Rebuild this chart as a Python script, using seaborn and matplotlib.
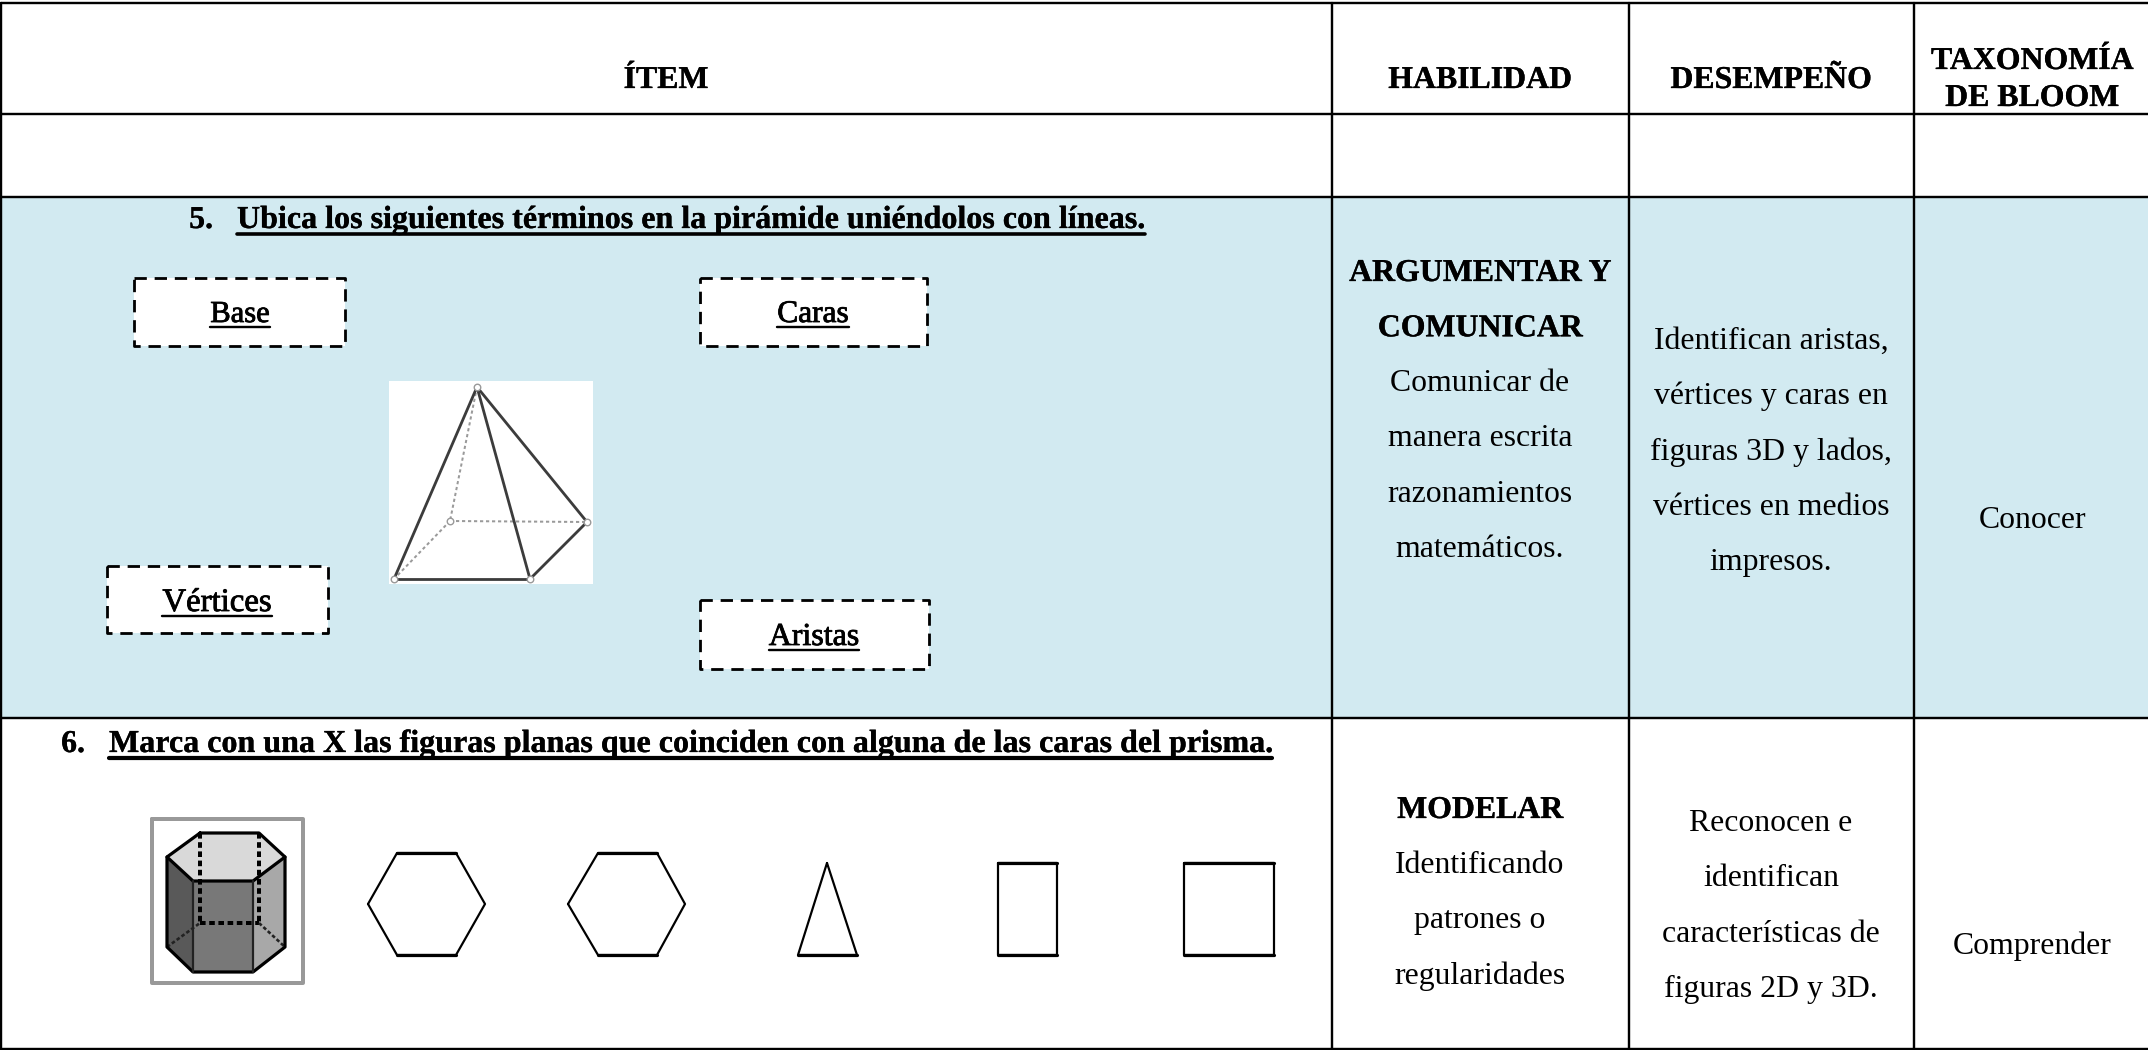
import matplotlib
matplotlib.use("Agg")
import matplotlib.pyplot as plt
import matplotlib.patheffects as pe
import seaborn as sns

# table layout, in reference pixels
col_edges = [1.3, 1332, 1629, 1914]
row_edges = [2.5, 114, 197, 718, 1049]
table_right = 2148
band_color = "#D2EAF1"

headers = ["ÍTEM", "HABILIDAD", "DESEMPEÑO"]
headers_x = [666, 1480, 1771]
bloom_header = ["TAXONOMÍA", "DE BLOOM"]

title_5 = "Ubica los siguientes términos en la pirámide uniéndolos con líneas."
title_6 = "Marca con una X las figuras planas que coinciden con alguna de las caras del prisma."

skill_5_bold = ["ARGUMENTAR Y", "COMUNICAR"]
skill_5 = ["Comunicar de", "manera escrita", "razonamientos", "matemáticos."]
perf_5 = ["Identifican aristas,", "vértices y caras en", "figuras 3D y lados,", "vértices en medios", "impresos."]
bloom_5 = "Conocer"
skill_6_bold = ["MODELAR"]
skill_6 = ["Identificando", "patrones o", "regularidades"]
perf_6 = ["Reconocen e", "identifican", "características de", "figuras 2D y 3D."]
bloom_6 = "Comprender"

box_labels = ["Base", "Caras", "Vértices", "Aristas"]
box_left = [134, 700, 107, 700]
box_right = [345, 927, 328, 929]
box_top = [278, 278, 566, 600]
box_bottom = [346, 346, 633, 669]
box_text_x = [240, 813, 217, 814]
box_text_y = [321, 321, 610, 644]
box_text_size = [22, 22.6, 23.6, 23]

pyr_apex = (477, 387)
pyr_back = (450, 521)
pyr_right = (587, 522)
pyr_fl = (394, 579)
pyr_fr = (530, 579)

top_face_x = [200, 259, 285, 253, 193, 167]
top_face_y = [833, 833, 857, 881, 881, 857]
left_face_x = [167, 193, 193, 167]
left_face_y = [857, 881, 972, 947]
front_face_x = [193, 253, 253, 193]
front_face_y = [881, 881, 972, 972]
right_face_x = [253, 285, 285, 253]
right_face_y = [881, 857, 947, 972]

hex_x = [[368, 397, 456, 485, 456, 397, 368], [568, 598, 657, 685, 657, 598, 568]]
hex_y = [904, 853, 853, 904, 955, 955, 904]
tri_x = [827, 798, 857, 827]
tri_y = [863, 955, 955, 863]
rect_x = [998, 1057, 1057, 998, 998]
square_x = [1184, 1274, 1274, 1184, 1184]
rect_y = [863, 863, 955, 955, 863]

FS = 22.9
LINE_STEP = 55.3

sns.set_theme(style="white")
plt.rcParams["font.family"] = ["Liberation Serif", "DejaVu Serif"]

fig, ax = plt.subplots(figsize=(21.48, 10.5), dpi=100)
ax.set_position([0, 0, 1, 1])
ax.axis("off")
ax.set_xlim(0, 2148)
ax.set_ylim(1050, 0)


def line(x, y, px=2.5, color="black", ls="-"):
    sns.lineplot(x=x, y=y, ax=ax, estimator=None, sort=False, errorbar=None, legend=False,
                 color=color, linewidth=px * 0.72, linestyle=ls)


def label(x, y, s, bold=False, size=FS, ha="center", under=0, under_px=3, stroke=0):
    t = ax.text(x, y + 1, s, ha=ha, va="baseline", fontsize=size, color="black",
                fontweight="bold" if bold else "normal")
    if bold and not stroke:
        stroke = 0.2
    if stroke:
        t.set_path_effects([pe.withStroke(linewidth=stroke, foreground="black")])
    if under:
        bb = t.get_window_extent(fig.canvas.get_renderer())
        line([bb.x0, bb.x1], [y + 1 + under, y + 1 + under], px=under_px)
    return t


def stack(x, y, rows, bold=False):
    for i, s in enumerate(rows):
        label(x, y + i * LINE_STEP, s, bold=bold)


# band behind row 5
ax.fill([col_edges[0], table_right, table_right, col_edges[0]],
        [row_edges[2], row_edges[2], row_edges[3], row_edges[3]], color=band_color, lw=0)

# grid, the right edge has no border
for x in col_edges:
    line([x, x], [row_edges[0], row_edges[-1]], px=2.4)
for y in row_edges:
    line([col_edges[0], table_right], [y, y], px=2.4)

# header
for x, s in zip(headers_x, headers):
    label(x, 87, s, bold=True)
label(2032, 68, bloom_header[0], bold=True)
label(2032, 105, bloom_header[1], bold=True)

# row 5 text
label(201, 227, "5.", bold=True)
label(237, 227, title_5, bold=True, size=23.08, ha="left", under=6, under_px=3.6)
stack(1480, 280, skill_5_bold, bold=True)
stack(1480, 390, skill_5)
stack(1771, 348, perf_5)
label(2032.5, 527, bloom_5)

# label boxes
for i, s in enumerate(box_labels):
    xs = [box_left[i], box_right[i], box_right[i], box_left[i], box_left[i]]
    ys = [box_top[i], box_top[i], box_bottom[i], box_bottom[i], box_top[i]]
    ax.fill(xs, ys, color="white", lw=0)
    line(xs, ys, px=2.8, ls=(0, (4.4, 2.8)))
    label(box_text_x[i], box_text_y[i], s, size=box_text_size[i], under=5, under_px=2.4, stroke=0.6)

# pyramid
ax.fill([389, 593, 593, 389], [381, 381, 584, 584], color="white", lw=0)
for a, b in [(pyr_apex, pyr_back), (pyr_back, pyr_right), (pyr_back, pyr_fl)]:
    line([a[0], b[0]], [a[1], b[1]], px=2, color="#9a9a9a", ls=(0, (1.6, 1.4)))
for a, b in [(pyr_apex, pyr_fl), (pyr_apex, pyr_fr), (pyr_apex, pyr_right), (pyr_fl, pyr_fr), (pyr_fr, pyr_right)]:
    line([a[0], b[0]], [a[1], b[1]], px=2.8, color="#3c3c3c")
pts = [pyr_apex, pyr_back, pyr_right, pyr_fl, pyr_fr]
sns.scatterplot(x=[p[0] for p in pts], y=[p[1] for p in pts], ax=ax, s=22, color="white",
                edgecolor="#999999", linewidth=1, legend=False, zorder=5)

# row 6 text
label(73, 751, "6.", bold=True)
label(109, 751, title_6, bold=True, size=23.08, ha="left", under=6, under_px=4.2)
stack(1480, 817, skill_6_bold, bold=True)
stack(1480, 872, skill_6)
stack(1771, 830, perf_6)
label(2032.5, 953, bloom_6)

# prism
line([152, 303, 303, 152, 152], [819, 819, 983, 983, 819], px=4, color="#999999")
ax.fill(top_face_x, top_face_y, color="#d9d9d9", lw=0)
ax.fill(left_face_x, left_face_y, color="#595959", lw=0)
ax.fill(front_face_x, front_face_y, color="#787878", lw=0)
ax.fill(right_face_x, right_face_y, color="#a8a8a8", lw=0)
dash = (0, (1.4, 0.9))
line([200, 200], [833, 923], px=4, ls=dash)
line([259, 259], [833, 923], px=4, ls=dash)
line([200, 259], [923, 923], px=4, ls=dash)
line([167, 200], [947, 923], px=2.6, ls=dash, color="#222222")
line([259, 285], [923, 947], px=2.6, ls=dash, color="#222222")
line(top_face_x + top_face_x[:1], top_face_y + top_face_y[:1], px=3.2)
line([167, 167, 193, 253, 285, 285], [857, 947, 972, 972, 947, 857], px=3.2)
line([193, 193], [881, 972], px=2.2, color="#222222")
line([253, 253], [881, 972], px=2.2, color="#222222")

# plane figures, the flat edges print heavier
for xs in hex_x:
    line(xs, hex_y, px=2.2)
    line(xs[1:3], hex_y[1:3], px=3.2)
    line(xs[4:6], hex_y[4:6], px=3.2)
line(tri_x, tri_y, px=2.2)
line(tri_x[1:3], tri_y[1:3], px=3.2)
for xs in (rect_x, square_x):
    line(xs, rect_y, px=2.2)
    line(xs[:2], rect_y[:2], px=3.2)
    line(xs[2:4], rect_y[2:4], px=3.2)

ax.set_xlim(0, 2148)
ax.set_ylim(1050, 0)
fig.savefig("out.png", dpi=100)
